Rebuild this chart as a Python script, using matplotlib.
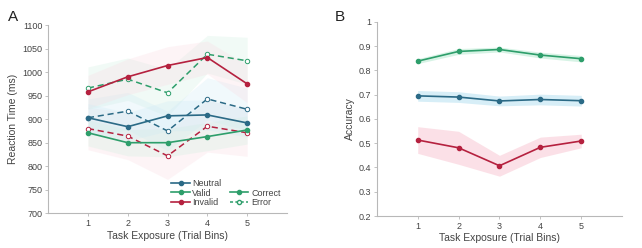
import matplotlib.pyplot as plt
from matplotlib.lines import Line2D
import numpy as np

plt.rcParams['font.family'] = ['Liberation Sans', 'DejaVu Sans']

bins = [1, 2, 3, 4, 5]

# reaction time (ms), correct and error trials
rt_neutral_c = [903, 884, 907, 909, 892]
rt_valid_c = [871, 850, 850, 863, 877]
rt_invalid_c = [958, 990, 1014, 1031, 975]
rt_neutral_e = [903, 917, 875, 943, 921]
rt_valid_e = [966, 985, 956, 1038, 1024]
rt_invalid_e = [880, 864, 822, 885, 871]

# standard errors (estimated from the shading)
rt_neutral_c_se = [30, 30, 32, 32, 30]
rt_valid_c_se = [28, 28, 30, 30, 30]
rt_invalid_c_se = [35, 38, 40, 35, 40]
rt_neutral_e_se = [40, 40, 42, 45, 45]
rt_valid_e_se = [45, 45, 50, 40, 50]
rt_invalid_e_se = [45, 50, 50, 55, 50]

# accuracy
acc_neutral = [0.695, 0.690, 0.674, 0.680, 0.675]
acc_valid = [0.838, 0.878, 0.886, 0.863, 0.848]
acc_invalid = [0.513, 0.481, 0.407, 0.483, 0.509]
acc_neutral_se = [0.022, 0.022, 0.020, 0.022, 0.022]
acc_valid_se = [0.010, 0.012, 0.010, 0.012, 0.013]
acc_invalid_se = [0.055, 0.068, 0.043, 0.042, 0.028]

blue = '#2b6a86'
green = '#2e9e6b'
red = '#b5213f'
blue_f = '#cdeaf5'
green_f = '#cdf0df'
red_f = '#fbd9e1'
txt = '#444444'
axc = '#b8b8b8'

fig = plt.figure(figsize=(6.42, 2.48), dpi=100)
ax1 = fig.add_axes([0.075, 0.14, 0.372, 0.759])
ax2 = fig.add_axes([0.587, 0.129, 0.382, 0.783])


def style(ax):
    for s in ['top', 'right']:
        ax.spines[s].set_visible(False)
    for s in ['left', 'bottom']:
        ax.spines[s].set_color(axc)
        ax.spines[s].set_linewidth(0.8)
    ax.tick_params(direction='out', length=2, width=0.6, color=axc,
                   labelsize=6.5, labelcolor=txt, pad=2)
    ax.set_xlim(0, 6)
    ax.set_xticks(bins)
    ax.set_xlabel('Task Exposure (Trial Bins)', fontsize=7.5, color=txt, labelpad=2)


x = np.array(bins)

# panel A
for m, se, fc in [(rt_invalid_e, rt_invalid_e_se, red_f),
                  (rt_valid_e, rt_valid_e_se, green_f),
                  (rt_neutral_e, rt_neutral_e_se, blue_f),
                  (rt_invalid_c, rt_invalid_c_se, red_f),
                  (rt_valid_c, rt_valid_c_se, green_f),
                  (rt_neutral_c, rt_neutral_c_se, blue_f)]:
    m = np.array(m)
    se = np.array(se)
    ax1.fill_between(x, m - se, m + se, color=fc, alpha=0.28, lw=0)

for m, c in [(rt_neutral_e, blue), (rt_valid_e, green), (rt_invalid_e, red)]:
    ax1.plot(x, m, '--', color=c, lw=1.1, marker='o', ms=3.2,
             mfc='white', mec=c, mew=0.7, dashes=(4, 2.5))
for m, c in [(rt_neutral_c, blue), (rt_valid_c, green), (rt_invalid_c, red)]:
    ax1.plot(x, m, '-', color=c, lw=1.2, marker='o', ms=3)

style(ax1)
ax1.set_ylim(700, 1100)
ax1.set_yticks(range(700, 1101, 50))
ax1.set_ylabel('Reaction Time (ms)', fontsize=7.5, color=txt, labelpad=3)

handles = [Line2D([], [], color=blue, lw=1.2, marker='o', ms=3),
           Line2D([], [], color=green, lw=1.2, marker='o', ms=3),
           Line2D([], [], color=red, lw=1.2, marker='o', ms=3),
           Line2D([], [], color='none'),
           Line2D([], [], color=green, lw=1.2, marker='o', ms=3),
           Line2D([], [], color=green, lw=1.1, ls='--', marker='o', ms=3,
                  mfc='white', dashes=(2, 1.5))]
labels = ['Neutral', 'Valid', 'Invalid', '', 'Correct', 'Error']
leg = ax1.legend(handles, labels, ncol=2, frameon=False, fontsize=6.5,
                 loc='lower right', bbox_to_anchor=(1.0, 0.0),
                 handlelength=2.0, handletextpad=0.3, columnspacing=1.0,
                 labelspacing=0.05, borderpad=0.2)
for t in leg.get_texts():
    t.set_color(txt)

# panel B
for m, se, fc in [(acc_neutral, acc_neutral_se, blue_f),
                  (acc_valid, acc_valid_se, green_f),
                  (acc_invalid, acc_invalid_se, red_f)]:
    m = np.array(m)
    se = np.array(se)
    ax2.fill_between(x, m - se, m + se, color=fc, alpha=0.8, lw=0)
for m, c in [(acc_neutral, blue), (acc_valid, green), (acc_invalid, red)]:
    ax2.plot(x, m, '-', color=c, lw=1.2, marker='o', ms=3)

style(ax2)
ax2.set_ylim(0.2, 1)
ax2.set_yticks([0.2, 0.3, 0.4, 0.5, 0.6, 0.7, 0.8, 0.9, 1])
ax2.set_yticklabels(['0.2', '0.3', '0.4', '0.5', '0.6', '0.7', '0.8', '0.9', '1'])
ax2.set_ylabel('Accuracy', fontsize=7.5, color=txt, labelpad=3)

fig.text(0.012, 0.915, 'A', fontsize=11, color='#222222')
fig.text(0.522, 0.915, 'B', fontsize=11, color='#222222')

fig.savefig('out.png', dpi=100, facecolor='white')
